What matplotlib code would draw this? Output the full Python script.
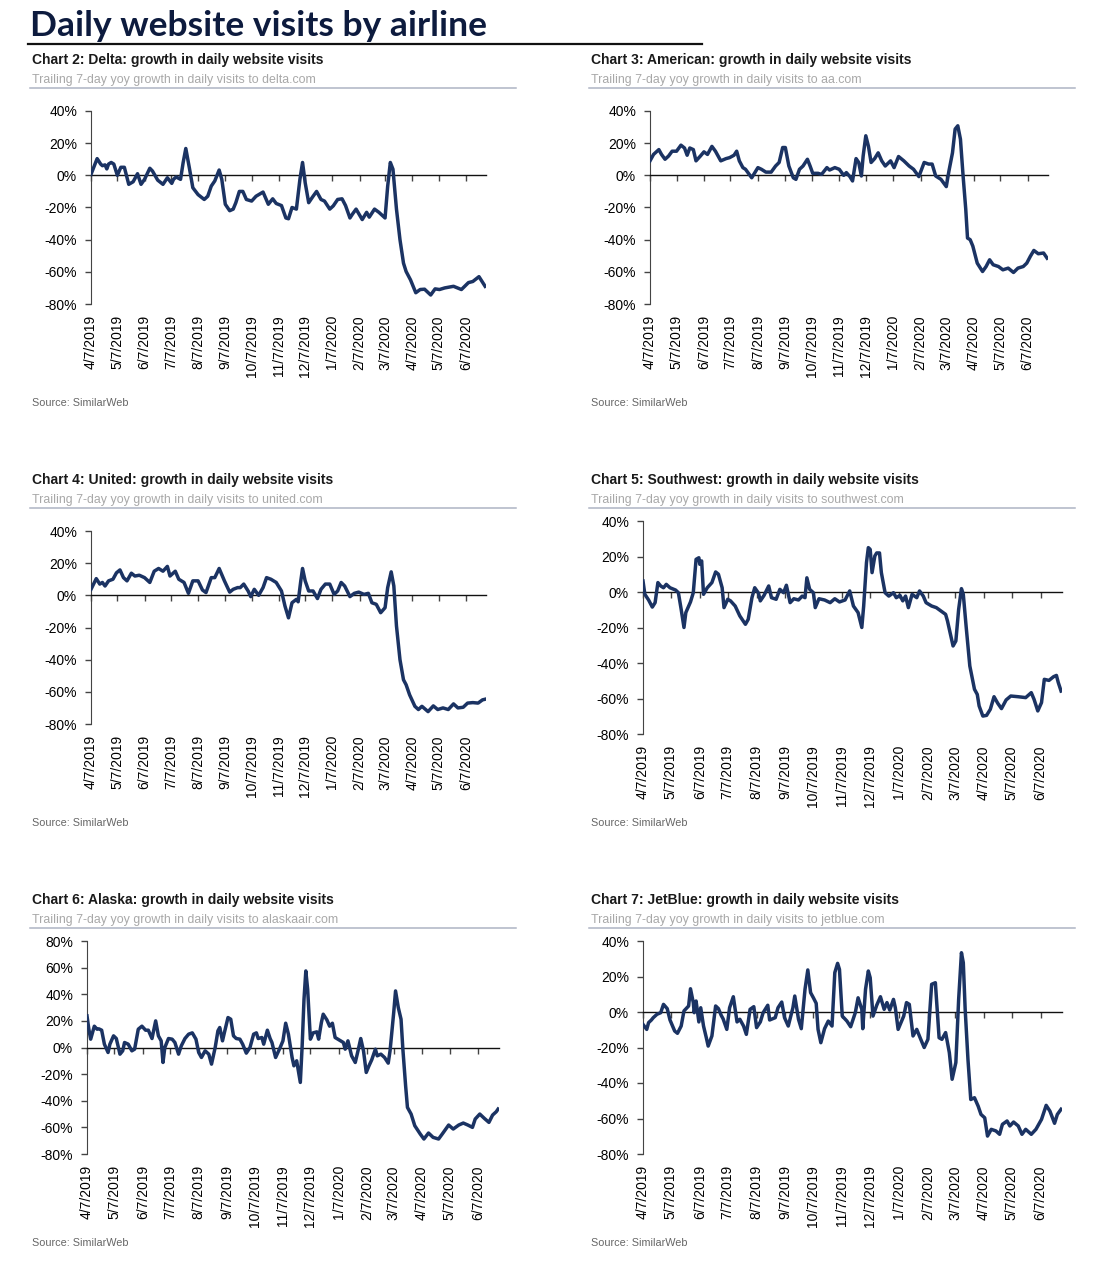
import numpy as np
import pandas as pd
import matplotlib
matplotlib.use("Agg")
import matplotlib.pyplot as plt
import matplotlib.dates as mdates
from matplotlib.lines import Line2D

# x = days since 4/7/2019, y = trailing 7-day yoy growth in daily visits (%)
START = pd.Timestamp("2019-04-07")

delta_days = [0, 7, 11, 13, 16, 18, 20, 23, 26, 30, 34, 38, 43, 48, 53, 57, 61, 67, 70, 76,
              82, 87, 92, 94, 97, 102, 105, 108, 112, 116, 122, 129, 133, 137, 141, 146, 149, 153, 158, 162,
              165, 169, 173, 177, 183, 188, 196, 202, 207, 211, 217, 222, 225, 229, 234, 238, 241, 244, 248, 253,
              257, 262, 266, 272, 276, 281, 286, 290, 295, 298, 302, 309, 314, 317, 323, 328, 335, 338, 341, 344,
              348, 352, 356, 359, 364, 370, 375, 380, 387, 392, 397, 403, 413, 422, 430, 435, 442, 449]
delta_vals = [0.6, 10.4, 7, 6, 6.5, 4, 7, 8, 7, 0, 5, 5, -5.6, -4, 1, -5.6, -2.5, 4.4, 2.7, -3,
              -5.6, -1.5, -5, -2.5, -1, -2.5, 8, 16.7, 4.8, -7.7, -12, -15, -13, -6.7, -3.5, 3.3, -2.5, -18, -22, -21,
              -17, -10, -10, -15, -16, -13, -10.4, -18, -14.6, -17.5, -18.8, -26.5, -27, -20, -21, -2.5, 8, -4.6, -17, -13,
              -10, -15, -16, -21, -19, -15, -14.6, -18.8, -26.5, -24, -21, -27.5, -23, -26, -21, -23, -26.5, -6.7, 8, 3.8,
              -21, -40, -54.6, -59.8, -65, -73, -71, -70.8, -74.4, -70.6, -71, -70, -69, -71, -66.7, -66, -63, -69]

american_days = [0, 4, 10, 13, 17, 21, 25, 30, 35, 39, 42, 45, 49, 52, 57, 61, 65, 70, 74, 80,
                 86, 90, 95, 98, 101, 105, 108, 115, 122, 126, 131, 137, 142, 146, 150, 153, 157, 162, 165, 169,
                 173, 178, 181, 184, 190, 194, 200, 203, 209, 214, 219, 222, 226, 229, 233, 236, 239, 241, 244, 247,
                 250, 254, 258, 262, 266, 272, 276, 281, 287, 293, 298, 304, 310, 315, 319, 323, 329, 335, 338, 342,
                 345, 348, 351, 354, 357, 359, 362, 365, 370, 376, 380, 384, 388, 394, 399, 405, 411, 416, 422, 426,
                 430, 434, 439, 445, 449]
american_vals = [9, 13, 16, 13, 10, 12, 15, 15, 18.75, 17, 12.5, 17, 16, 9, 12, 14.6, 13, 18, 15, 9,
                 10.4, 11, 12.5, 15, 9, 4.8, 3.75, -1.5, 4.8, 3.75, 2, 2, 5.8, 8, 17.3, 17.3, 5.8, -1.5, -2.5, 3.75,
                 5.8, 10, 5.8, 1.25, 1.25, 0.6, 4.8, 3.3, 4.8, 3.75, 0, 1.7, -0.8, -3.5, 10.4, 8, -0.4, 12, 24.6, 18,
                 8, 10.4, 14, 9, 5.8, 9, 4.8, 11.7, 9, 5.8, 3.75, -0.8, 8, 7, 7, -0.4, -2.5, -7, 2.7, 14,
                 28.75, 30.8, 22.5, -0.4, -21, -39, -40, -44, -54.6, -59.8, -56.7, -52.5, -55.6, -56.7, -58.75, -57.7, -60.4, -57.7, -56.7, -54.6,
                 -50.4, -46.7, -48.75, -48.3, -51.5]

united_days = [0, 6, 10, 13, 16, 20, 25, 29, 33, 37, 41, 46, 50, 55, 61, 67, 72, 77, 82, 87,
               90, 96, 100, 106, 111, 116, 122, 127, 131, 137, 141, 146, 152, 158, 162, 167, 170, 174, 179, 182,
               186, 191, 196, 200, 205, 211, 217, 221, 225, 229, 234, 236, 239, 241, 244, 248, 253, 258, 262, 267,
               272, 277, 281, 285, 289, 295, 300, 305, 311, 316, 320, 325, 330, 335, 338, 342, 345, 348, 352, 356,
               359, 363, 369, 373, 377, 384, 390, 395, 401, 407, 413, 418, 424, 429, 435, 441, 446, 449]
united_vals = [3.75, 10.4, 7, 8, 5.8, 9, 10, 14, 15.8, 11, 9, 13.75, 12, 12.5, 11, 8, 15, 16.7, 15, 18,
               12, 15, 10, 8, 1.25, 9, 9, 3.3, 1.7, 11, 11, 16.7, 9, 2, 3.75, 4.8, 4.8, 7, 2.7, -0.8,
               3.75, 0, 4.8, 11, 10, 8, 2.7, -6.7, -14, -4.6, -2.5, -4, 9, 16.7, 9, 2.7, 2.7, -2, 3.75, 7,
               7, 0.6, 2.7, 8, 5.8, -0.8, 1.25, 2, 0.6, 1.25, -4.6, -5.6, -10.8, -7.7, 4.8, 14.6, 5.8, -19, -40, -52.5,
               -55.6, -61.9, -69, -71, -69, -72.3, -68.75, -71, -70, -71, -67.5, -70, -69.6, -67, -66.7, -67, -65, -64.6]

southwest_days = [0, 2, 6, 10, 13, 16, 19, 22, 25, 29, 35, 38, 41, 44, 46, 51, 54, 57, 60, 61,
                  63, 65, 69, 74, 78, 81, 85, 87, 91, 94, 99, 104, 110, 113, 117, 120, 124, 126, 130, 135,
                  138, 143, 147, 151, 154, 158, 162, 167, 171, 174, 176, 179, 183, 185, 189, 195, 201, 206, 211, 217,
                  222, 226, 231, 235, 237, 240, 242, 244, 246, 249, 251, 254, 256, 260, 264, 269, 272, 276, 279, 282,
                  285, 289, 294, 297, 301, 304, 310, 315, 320, 325, 327, 331, 333, 336, 339, 342, 344, 347, 351, 356,
                  359, 361, 365, 369, 373, 377, 381, 385, 390, 395, 403, 411, 417, 420, 424, 428, 431, 436, 441, 444,
                  446, 449]
southwest_vals = [6.2, -1.3, -4.5, -8.5, -6, 5.3, 3.4, 2.4, 4.3, 2.4, 1.1, -0.4, -9.8, -20, -11.6, -5.6, -0.4, 18.4, 19.3, 15.6,
                  17.5, -1.3, 2.4, 5.3, 11.3, 10, 2.4, -8.8, -4.1, -5, -7.9, -13.5, -18.2, -15.4, -3.2, 2.4, -0.6, -5, -1.9, 3.4,
                  -3.2, -4.1, 1.5, -0.4, 3.8, -6, -3.8, -4.5, -2.3, -3.2, 8, 1.5, -0.4, -8.8, -3.8, -4.5, -6, -3.8, -5.6, -4.5,
                  0.6, -7.9, -11.6, -20, -7.9, 16.5, 25, 24, 10.9, 20.3, 22, 22, 10.9, -0.4, -2.3, -0.4, -3.2, -1.9, -5, -2.3,
                  -8.8, -1.3, -3.2, 0.6, -2.3, -6, -7.9, -8.8, -10.7, -12.6, -16.3, -25.7, -30.4, -27.6, -9.8, 1.9, -1.3, -19.2, -41.7, -54.8,
                  -57.7, -64.2, -69.9, -69.5, -66.1, -59, -62.7, -65.7, -60.8, -58.6, -59, -59.5, -56.7, -60.5, -67, -62.3, -49.2, -49.8, -47.7, -47,
                  -51, -55.8]

alaska_days = [0, 2, 4, 6, 8, 11, 13, 16, 19, 23, 25, 29, 32, 36, 39, 41, 45, 49, 52, 56,
               60, 64, 67, 71, 75, 78, 81, 83, 85, 89, 93, 96, 100, 103, 107, 111, 115, 119, 122, 125,
               129, 133, 136, 140, 143, 145, 148, 150, 154, 157, 160, 163, 167, 170, 174, 178, 182, 185, 187, 191,
               193, 197, 200, 202, 206, 211, 214, 217, 220, 224, 226, 229, 233, 235, 237, 239, 241, 244, 247, 251,
               253, 256, 258, 262, 265, 268, 271, 274, 277, 280, 282, 285, 289, 293, 296, 299, 302, 305, 308, 311,
               315, 317, 321, 325, 329, 331, 335, 337, 340, 343, 345, 348, 350, 354, 358, 364, 368, 373, 378, 384,
               388, 395, 400, 406, 411, 416, 421, 424, 429, 434, 439, 443, 447, 449]
alaska_vals = [23.75, 13.75, 6.25, 11, 16, 13.75, 14, 13, 2.5, -3.75, 2.5, 8.75, 6.75, -5, -2.5, 3.75, 2.5, -2.5, -1.25, 13.75,
               16, 13, 13, 6.75, 20, 8.75, 5, -11.25, 0, 6.75, 6.25, 3.75, -5, 1.25, 6.75, 10, 11, 6.25, -3.75, -7.5,
               -2.5, -5, -12.5, 0, 12.5, 15, 5, 11, 22.5, 21.25, 8.75, 6.75, 6.25, 2.5, -4.25, 0, 10, 11, 6.75, 7.5,
               2.5, 13, 6.75, 3.75, -7.5, 0, 5, 18.25, 10, -7.5, -13.75, -10, -26.25, 1.25, 36, 57.5, 43.75, 6.25, 11, 11.75,
               6.25, 18.75, 25, 20.75, 16, 18.25, 7.5, 6.25, 5, 3.75, -1.25, 5, -6.25, -11.25, -2.5, 6.75, -2.5, -18.75, -13.75, -9.25,
               -1.25, -6.25, -5, -7.5, -11.75, -2.5, 26.25, 42.5, 30, 21.25, -1.25, -28.75, -45, -50, -58.75, -65, -68.75, -64.25, -67.5, -68.75,
               -65, -58.25, -61.25, -58.25, -56.75, -58.25, -60, -53.75, -50, -53.25, -56.25, -50.75, -48.25, -46.25]

jetblue_days = [0, 4, 6, 9, 11, 15, 19, 22, 26, 29, 34, 37, 41, 44, 49, 51, 54, 55, 57, 60,
                62, 65, 68, 70, 74, 78, 81, 84, 86, 90, 93, 97, 101, 104, 108, 111, 115, 119, 122, 126,
                129, 134, 136, 142, 145, 149, 152, 156, 161, 163, 167, 170, 174, 177, 180, 183, 186, 188, 191, 195,
                199, 203, 206, 209, 211, 214, 219, 223, 228, 231, 235, 236, 239, 242, 244, 247, 251, 255, 259, 262,
                265, 269, 271, 274, 277, 280, 283, 286, 290, 294, 298, 302, 306, 310, 314, 318, 321, 325, 329, 332,
                336, 339, 342, 344, 346, 349, 352, 356, 360, 363, 367, 370, 374, 379, 383, 386, 391, 394, 398, 403,
                407, 411, 417, 422, 428, 433, 437, 442, 445, 449]
jetblue_vals = [-7, -9.8, -6, -4.5, -3.2, -1.3, -0.4, 4.3, 1.9, -4.5, -10.7, -12, -7.9, 0.6, 3.4, 13.1, 5.3, -0.4, 6.2, -5.6,
                2.4, -7.9, -14.5, -19.2, -13.5, 3.4, 1.9, -1.9, -3.8, -9.8, 2.4, 8.6, -5.6, -4.1, -7.9, -12.6, 1.5, 3, -8.8, -5.6,
                -0.4, 3.8, -4.5, -3.2, 2.4, 5.6, -3.2, -7.9, 2.4, 9, -4.1, -9.4, 12.8, 23.7, 10.9, 8, 4.9, -9.8, -17.3, -9.4,
                -5.1, -7.9, 22.2, 27.4, 24, -2.3, -5.1, -8.3, -0.4, 8, 1.5, -9.4, 12.8, 23.1, 19.3, -2.3, 3.8, 8.6, 1.5, 5.3,
                1.1, 7.1, 2.4, -9.8, -6, -2.3, 5.3, 4.3, -13.5, -9.8, -15, -20, -15.4, 15.6, 16.5, -14.5, -15.4, -11.6, -22.9, -37.9,
                -28.5, 7.1, 33.4, 27.8, 1.5, -26.7, -49.3, -48.3, -53.1, -57.7, -59.6, -69.9, -66.1, -67, -68.9, -63.3, -61.4, -64.2, -62, -64.2,
                -68.9, -66.1, -68.9, -66.1, -60.5, -52.6, -55.8, -62.7, -57.7, -54.8]

month_ticks = [START + pd.DateOffset(months=i) for i in range(15)]
tick_labels = [f"{d.month}/{d.day}/{d.year}" for d in month_ticks]

W, H = 1094, 1280
NAVY = "#1b3363"
plt.rcParams["font.family"] = ["Liberation Sans", "DejaVu Sans"]


def fx(px):
    return px / W


def fy(py):
    return 1 - py / H


# (days, values, y-limits, axes box in px: left, top, right, bottom,
#  text column x, row top y, title, subtitle)
panels = [
    (delta_days, delta_vals, (-80, 40), (91, 111, 486, 304), 32, 60,
     "Chart 2: Delta: growth in daily website visits",
     "Trailing 7-day yoy growth in daily visits to delta.com"),
    (american_days, american_vals, (-80, 40), (650, 111, 1048, 304), 591, 60,
     "Chart 3: American: growth in daily website visits",
     "Trailing 7-day yoy growth in daily visits to aa.com"),
    (united_days, united_vals, (-80, 40), (91, 531, 486, 724), 32, 480,
     "Chart 4: United: growth in daily website visits",
     "Trailing 7-day yoy growth in daily visits to united.com"),
    (southwest_days, southwest_vals, (-80, 40), (643, 521, 1062, 734), 591, 480,
     "Chart 5: Southwest: growth in daily website visits",
     "Trailing 7-day yoy growth in daily visits to southwest.com"),
    (alaska_days, alaska_vals, (-80, 80), (87, 941, 499, 1154), 32, 900,
     "Chart 6: Alaska: growth in daily website visits",
     "Trailing 7-day yoy growth in daily visits to alaskaair.com"),
    (jetblue_days, jetblue_vals, (-80, 40), (643, 941, 1062, 1154), 591, 900,
     "Chart 7: JetBlue: growth in daily website visits",
     "Trailing 7-day yoy growth in daily visits to jetblue.com"),
]

fig = plt.figure(figsize=(W / 100, H / 100), dpi=100)

fig.text(fx(30), fy(26), "Daily website visits by airline", fontsize=25.5, fontweight="bold",
         family=["Lato", "DejaVu Sans"], color="#0d1b3e", va="center", ha="left")
fig.add_artist(Line2D([fx(28), fx(702)], [fy(44), fy(44)], color="#111111", lw=1.6))

x0 = mdates.date2num(START)
tick_nums = mdates.date2num(month_ticks)

for days, vals, ylim, box, tx, ty, title, sub in panels:
    l, t, r, b = box
    ax = fig.add_axes([fx(l), fy(b), (r - l) / W, (b - t) / H])
    x = x0 + np.array(days, dtype=float)
    ax.plot(x, vals, color=NAVY, lw=2.5, solid_joinstyle="round", zorder=3)

    ax.set_xlim(x0, x0 + 450)
    ax.set_ylim(*ylim)
    yt = np.arange(ylim[0], ylim[1] + 1, 20)
    ax.set_yticks(yt, labels=[f"{v}%" for v in yt])
    ax.tick_params(axis="y", direction="out", length=4, width=1, color="#444444",
                   labelsize=10, pad=6)

    # zero line carries the month tick marks
    for s in ("top", "right"):
        ax.spines[s].set_visible(False)
    ax.spines["left"].set_color("#444444")
    ax.spines["bottom"].set_position(("data", 0))
    ax.spines["bottom"].set_color("#111111")
    ax.spines["bottom"].set_linewidth(1)
    ax.set_xticks(tick_nums)
    ax.tick_params(axis="x", direction="out", length=4, width=1, color="#444444",
                   labelbottom=False)

    sec = ax.secondary_xaxis("bottom")
    sec.set_xticks(tick_nums, labels=tick_labels)
    sec.tick_params(length=0, pad=8, labelsize=10, labelrotation=90)
    sec.spines["bottom"].set_visible(False)

    fig.text(fx(tx), fy(ty), title, fontsize=10, fontweight="bold", color="#1a1a1a",
             va="center", ha="left")
    fig.text(fx(tx), fy(ty + 20), sub, fontsize=8.9, color="#a8a8a8", va="center", ha="left")
    fig.add_artist(Line2D([fx(tx - 2), fx(tx + 484)], [fy(ty + 28), fy(ty + 28)],
                          color="#aeb4c4", lw=1.1))
    fig.text(fx(tx), fy(ty + 343), "Source: SimilarWeb", fontsize=7.8, color="#666666",
             va="center", ha="left")

fig.savefig("out.png", dpi=100)
